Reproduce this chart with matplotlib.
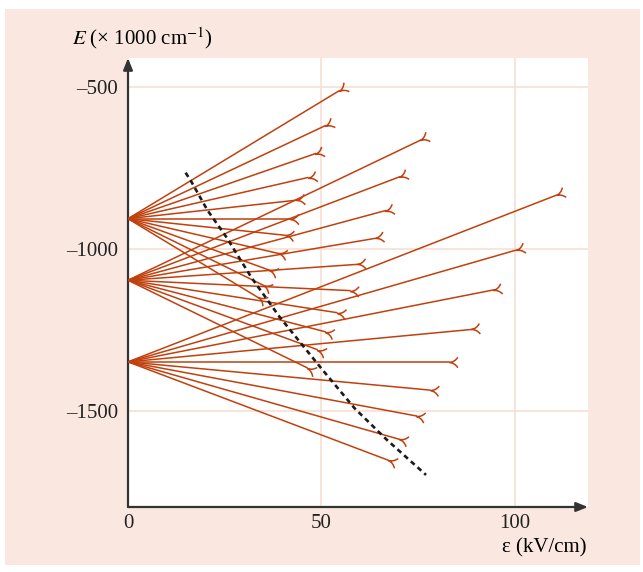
import numpy as np
import matplotlib.pyplot as plt
from matplotlib.path import Path
from matplotlib.markers import MarkerStyle
from matplotlib.transforms import Affine2D
from matplotlib.patches import Rectangle

plt.rcParams['font.family'] = ['Liberation Serif', 'DejaVu Serif']
plt.rcParams['mathtext.fontset'] = 'stix'

# zero-field energies of the three manifolds
fan_origins = [-907, -1097, -1349]

# end points (field, energy) of every Stark component
fan1_end_x = [54.5, 51.0, 48.5, 46.5, 43.5, 42.0, 40.5, 38.8, 36.6, 34.9, 33.6]
fan1_end_y = [-513, -620, -706, -780, -850, -907, -958, -1014, -1066, -1112, -1150]
fan2_end_x = [75.6, 70.2, 66.6, 63.8, 59.3, 57.4, 54.0, 51.0, 48.9, 46.3]
fan2_end_y = [-665, -778, -882, -968, -1048, -1129, -1197, -1256, -1311, -1367]
fan3_end_x = [110.7, 100.4, 94.5, 88.8, 83.0, 78.0, 74.6, 70.2, 67.2]
fan3_end_y = [-835, -1004, -1127, -1249, -1349, -1436, -1516, -1588, -1652]

# classical ionisation limit (dashed curve)
limit_x = [14.9, 16.4, 20.5, 25.4, 32.0, 39.2, 50.0, 58.6, 67.0, 77.1]
limit_y = [-765, -793, -880, -963, -1090, -1210, -1369, -1492, -1590, -1698]

x_ticks = [0, 50, 100]
x_ticklabels = ['0', '50', '100']
y_ticks = [-500, -1000, -1500]
y_ticklabels = ['\u2013500', '\u20131000', '\u20131500']

line_color = '#c0400e'
pink = '#fae8e0'

fig = plt.figure(figsize=(6.43, 5.72), dpi=100)
fig.add_artist(Rectangle((5/643, 7/572), 635/643, 556/572, transform=fig.transFigure,
                         facecolor=pink, edgecolor='none', zorder=-10))
ax = fig.add_axes([128/643, 1 - 507/572, 460/643, 449/572])
ax.set_facecolor('white')
ax.set_xlim(0, 119)
ax.set_ylim(-1797, -411)

for s in ax.spines.values():
    s.set_visible(False)
ax.set_xticks(x_ticks)
ax.set_xticklabels(x_ticklabels)
ax.set_yticks(y_ticks)
ax.set_yticklabels(y_ticklabels)
ax.tick_params(length=0, labelsize=15, colors='#222222')
ax.tick_params(axis='y', pad=7)
ax.tick_params(axis='x', pad=5)
ax.grid(color='#f7dfd3', lw=1.2)
ax.set_axisbelow(True)

# axes drawn as arrows
arrow = dict(arrowstyle='-|>,head_length=0.7,head_width=0.28', color='#333333', lw=1.6,
             shrinkA=0, shrinkB=0)
ax.annotate('', xy=(0, 1.0), xytext=(0, 0), xycoords='axes fraction', arrowprops=arrow)
ax.annotate('', xy=(1.0, 0), xytext=(0, 0), xycoords='axes fraction', arrowprops=arrow)

# little forked end of each component
hook = Path([(0, 0), (5, 0.4), (8, 5.0), (0, 0), (5, -0.4), (8, -5.0)],
            [Path.MOVETO, Path.CURVE3, Path.CURVE3, Path.MOVETO, Path.CURVE3, Path.CURVE3])

fans = [(fan1_end_x, fan1_end_y), (fan2_end_x, fan2_end_y), (fan3_end_x, fan3_end_y)]
for y0, (ex, ey) in zip(fan_origins, fans):
    for xe, ye in zip(ex, ey):
        ax.plot([0, xe], [y0, ye], color=line_color, lw=1.1, zorder=3)
        p0 = ax.transData.transform((0, y0))
        p1 = ax.transData.transform((xe, ye))
        ang = np.degrees(np.arctan2(p1[1] - p0[1], p1[0] - p0[0]))
        m = MarkerStyle(hook, transform=Affine2D().rotate_deg(ang))
        ax.plot([xe], [ye], marker=m, ms=12, mec=line_color, mfc='none', mew=1.1,
                linestyle='none', zorder=3)

ax.plot(limit_x, limit_y, color='#1a1a1a', lw=1.9, dashes=(1.9, 1.5), zorder=4)

fig.text(72/643, 1 - 38/572, r'$E$ (× 1000 cm$^{-1}$)', ha='left', va='center', fontsize=15)
fig.text(587/643, 1 - 548/572, 'ε (kV/cm)', ha='right', va='center', fontsize=15)

fig.savefig('out.png', dpi=100)
